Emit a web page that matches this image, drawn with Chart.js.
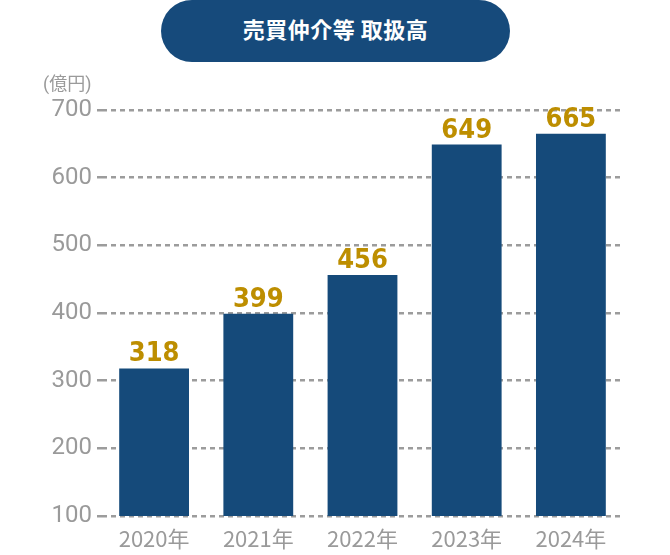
<!DOCTYPE html>
<html>
<head>
<meta charset="utf-8">
<script src="https://cdn.jsdelivr.net/npm/chart.js@4"></script>
<style>
  html, body { margin: 0; padding: 0; background: #fff; }
  #wrap { position: relative; width: 670px; height: 555px; }
  #title {
    position: absolute; left: 161px; top: 0; width: 349px; height: 62px;
    border-radius: 31px; background: #164a7b; color: #fff;
    font: bold 22px "Noto Sans CJK JP", sans-serif; line-height: 56px;
    text-align: center; letter-spacing: 0.5px;
  }
  #unit {
    position: absolute; left: 43px; top: 69px;
    font: 18px/26px "Noto Sans CJK JP", sans-serif; color: #9a9a9a;
  }
  #unit span { font-family: Roboto, sans-serif; }
  canvas { position: absolute; left: 0; top: 0; }
</style>
</head>
<body>
<div id="wrap">
  <canvas id="dealChart" width="670" height="555"></canvas>
  <div id="title">売買仲介等 取扱高</div>
  <div id="unit"><span>(</span>億円<span>)</span></div>
</div>
<script>
// データ
const years = ['2020年', '2021年', '2022年', '2023年', '2024年'];
const amounts = [318, 399, 456, 649, 665];
const yTicks = [100, 200, 300, 400, 500, 600, 700];

// 棒の上に数値を描く
const valueLabels = {
  id: 'valueLabels',
  afterDatasetsDraw(chart) {
    const ctx = chart.ctx;
    const meta = chart.getDatasetMeta(0);
    ctx.save();
    ctx.font = 'bold 27px "DejaVu Sans Condensed", "DejaVu Sans", sans-serif';
    ctx.fillStyle = '#bd8e00';
    ctx.textAlign = 'center';
    ctx.textBaseline = 'alphabetic';
    meta.data.forEach((bar, i) => {
      ctx.fillText(String(amounts[i]), bar.x, bar.y - 7);
    });
    ctx.restore();
  }
};

document.addEventListener("DOMContentLoaded", () => {
  const ctx = document.getElementById('dealChart').getContext('2d');
  new Chart(ctx, {
    type: 'bar',
    data: {
      labels: years,
      datasets: [{
        data: amounts,
        backgroundColor: '#154a7a',
        barPercentage: 0.67,
        categoryPercentage: 1
      }]
    },
    options: {
      responsive: false,
      animation: false,
      layout: { padding: { top: 110, right: 47, bottom: 0, left: 0 } },
      plugins: {
        legend: { display: false },
        tooltip: { enabled: false }
      },
      scales: {
        x: {
          afterFit: (s) => { s.height = 39; },
          grid: { display: false, drawTicks: false },
          border: { display: false },
          ticks: {
            padding: 9,
            color: '#9a9a9a',
            font: { family: '"Noto Sans CJK JP", sans-serif', size: 22 }
          }
        },
        y: {
          min: 100,
          max: 700,
          afterFit: (s) => { s.width = 102; },
          afterBuildTicks: (s) => { s.ticks = yTicks.map(v => ({ value: v })); },
          border: { display: false, dash: [5, 4] },
          grid: {
            color: '#9c9c9c',
            lineWidth: 2.5,
            tickLength: 5,
            tickColor: '#9c9c9c',
            tickWidth: 2.5,
            tickBorderDash: [5, 4]
          },
          ticks: {
            padding: 5,
            color: '#9a9a9a',
            font: { family: 'Roboto, sans-serif', size: 24 }
          }
        }
      }
    },
    plugins: [valueLabels]
  });
});
</script>
</body>
</html>
